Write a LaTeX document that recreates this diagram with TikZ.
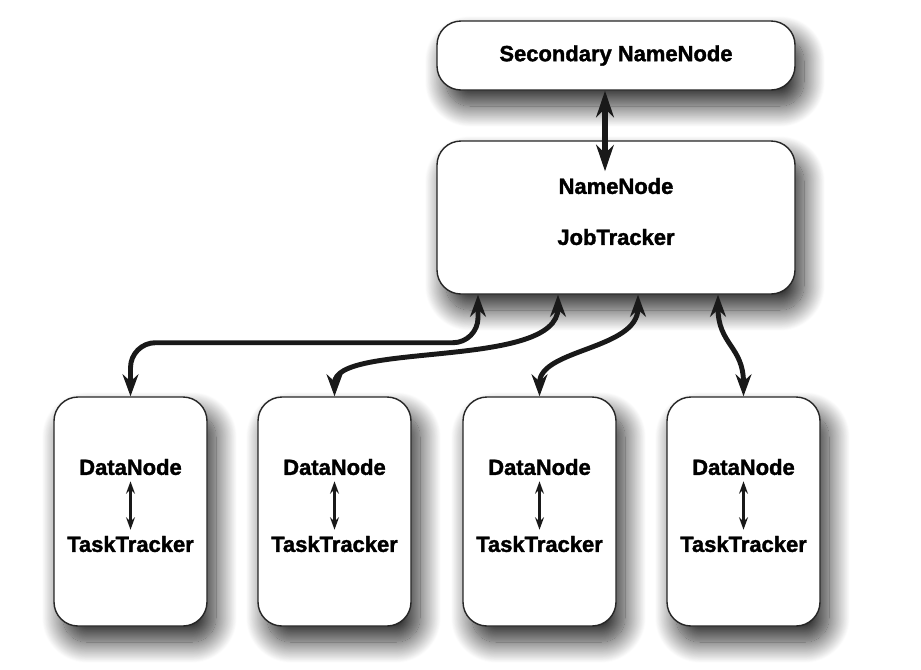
\documentclass[tikz,border=0pt]{standalone}
\usepackage{fontspec}
\setmainfont{Liberation Sans}[BoldFeatures={FakeBold=1.6}]
\usetikzlibrary{arrows.meta,shadows.blur}

\begin{document}
\begin{tikzpicture}
\tikzstyle{master} = [rectangle, rounded corners=0.48cm, minimum width=7.16cm, line width=0.8pt, draw=black!85, fill=white, blur shadow={shadow xshift=0.18cm, shadow yshift=-0.32cm, shadow blur radius=0.42cm, shadow blur steps=25, shadow opacity=85}]
\tikzstyle{worker} = [master, minimum width=3.06cm, minimum height=4.58cm]
\tikzstyle{txt} = [font=\bfseries\fontsize{12.5}{15}\selectfont, text=black]
\tikzstyle{arrow} = [line width=2.8pt, black!90, <->, >={Stealth[length=12.5pt,width=9pt]}]
\tikzstyle{arrow2} = [line width=1.4pt, black!90, <->, >={Stealth[length=7pt,width=5pt]}]
\useasboundingbox (0,0) rectangle (18.42,-13.38);
\node (nn) [master, minimum height=3.06cm] at (12.32,-4.35) {};
\node (snn) [master, minimum height=1.38cm, txt, above of=nn, yshift=2.24cm] {Secondary NameNode};
\node (nntxt) [txt, above of=nn, yshift=-0.37cm] {NameNode};
\node (jttxt) [txt, below of=nn, yshift=0.61cm] {JobTracker};
\node (w1) [worker] at (2.61,-10.23) {};
\node (w2) [worker, right of=w1, xshift=3.08cm] {};
\node (w3) [worker, right of=w2, xshift=3.1cm] {};
\node (w4) [worker, right of=w3, xshift=3.08cm] {};
\foreach \i in {1,2,3,4} {
  \node (dn\i) [txt, above of=w\i, yshift=-0.11cm] {DataNode};
  \node (tt\i) [txt, below of=w\i, yshift=0.35cm] {TaskTracker};
  \draw [arrow2] (dn\i.south) -- (tt\i.north);
}
\draw [arrow, line width=3.5pt, >={Stealth[length=15pt,width=10pt]}] ([xshift=-0.22cm]snn.south) -- ([xshift=-0.22cm, yshift=-0.62cm]nn.north);
\draw [arrow, rounded corners=0.5cm] ([xshift=-2.76cm]nn.south) -- ++(0,-0.96) -| (w1.north);
\draw [arrow] ([xshift=-1.16cm]nn.south) .. controls +(0,-1.5) and +(0,1.1) .. (w2.north);
\draw [arrow] ([xshift=0.44cm]nn.south) .. controls +(0,-1.1) and +(0,0.95) .. (w3.north);
\draw [arrow] ([xshift=2.04cm]nn.south) .. controls +(0,-1.0) and +(0,1.0) .. (w4.north);
\end{tikzpicture}
\end{document}
